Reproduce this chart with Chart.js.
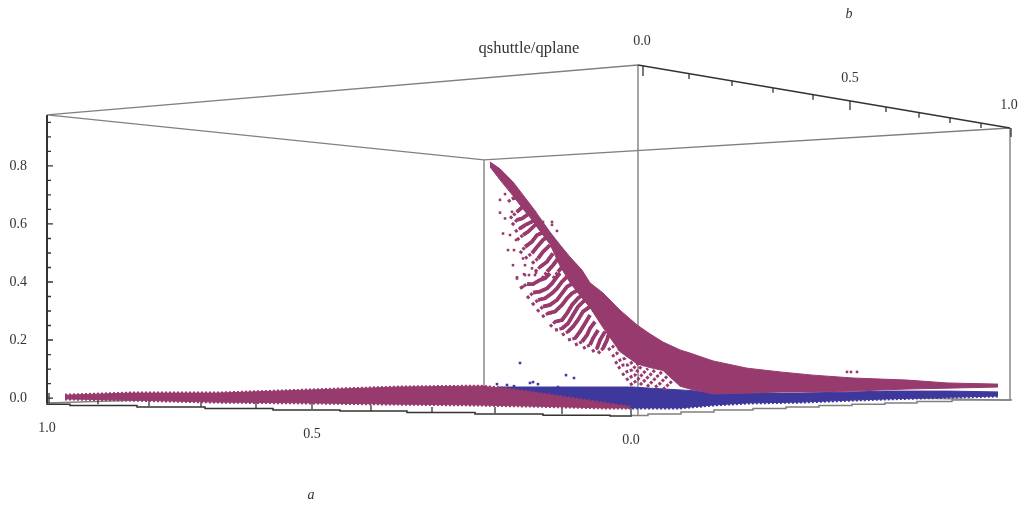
<!DOCTYPE html>
<html>
<head>
<meta charset="utf-8">
<title>qshuttle/qplane</title>
<style>
html, body { margin: 0; padding: 0; background: #fff; }
canvas { display: block; filter: blur(0.4px); }
</style>
<script src="https://cdn.jsdelivr.net/npm/chart.js@4"></script>
</head>
<body>
<canvas id="cloudChart" width="1022" height="508"></canvas>
<script>
// values: x is the projected horizontal position, y is qshuttle/qplane
var bandX = [490,500,513,523,533,540,550,560,570,582,590,603,620,637,650,663,680,690,713,747,780,813,853,907,947,998];
var bandTop = [.814,.790,.745,.700,.655,.621,.572,.528,.486,.441,.397,.362,.303,.252,.221,.193,.166,.155,.128,.103,.090,.079,.069,.062,.052,.048];
var bandBottom = [.797,.752,.697,.652,.610,.575,.530,.455,.398,.345,.312,.243,.160,.118,.105,.095,.041,.031,.014,.017,.021,.021,.024,.031,.034,.038];

var floorX = [65,130,217,313,400,480,503,537,570,603,630];
var floorTop = [.010,.017,.017,.028,.038,.041,.034,.017,0,-.017,-.031];
var floorBottom = [-.003,-.007,-.014,-.017,-.021,-.024,-.026,-.028,-.031,-.034,-.034];

var blueX = [497,633,650,680,713,747,800,853,887,950,998];
var blueTop = [.038,.038,.034,.028,.021,.017,.017,.021,.024,.024,.021];
var blueBottom = [.021,-.034,-.034,-.034,-.024,-.017,-.014,-.007,-.003,.003,.007];

var blueDotsX = [520,566,574,530,533,538,497,507,514,558];
var blueDotsQ = [.121,.079,.069,.052,.055,.048,.048,.045,.041,.038];

// crescents hanging off the dense band
var arcX = [
  [508,513,518],
  [510,517,523,527],
  [512,517,522,527,532],
  [515,520,525,532,537],
  [517,523,528,535,542],
  [520,525,532,537,545],
  [525,532,537,543,550],
  [532,538,543,550],
  [535,540,547,553],
  [542,547,553,558],
  [553,558,565],
  [520,527,533,540,545,550],
  [527,533,540,547,552,557,560],
  [532,538,545,552,557,562,567],
  [537,543,550,557,562,567,573],
  [542,548,555,562,567,572,578],
  [550,555,562,567,572,578,585],
  [555,562,568,573,578,585],
  [562,568,573,578,583,590],
  [568,575,580,585,590],
  [575,582,587,590,595],
  [583,590,593,598],
  [592,597,600,605],
  [598,603,607,609]
];
var arcQ = [
  [.677,.688,.694],
  [.619,.642,.660,.665],
  [.596,.614,.619,.631,.648],
  [.573,.585,.596,.608,.619],
  [.545,.562,.573,.596,.602],
  [.499,.521,.539,.562,.573],
  [.481,.499,.521,.545,.562],
  [.464,.481,.504,.527],
  [.435,.452,.470,.499],
  [.412,.435,.458,.481],
  [.412,.435,.464],
  [.378,.393,.393,.407,.413,.430],
  [.344,.363,.367,.378,.395,.418,.430],
  [.321,.338,.344,.361,.378,.401,.418],
  [.298,.315,.321,.338,.361,.384,.395],
  [.280,.292,.298,.321,.344,.361,.372],
  [.246,.263,.269,.292,.321,.344,.361],
  [.234,.240,.257,.286,.315,.338],
  [.217,.229,.246,.269,.298,.315],
  [.200,.206,.229,.257,.286],
  [.183,.194,.217,.240,.263],
  [.171,.183,.206,.234],
  [.160,.171,.200,.229],
  [.154,.171,.200,.223]
];

// sparser strokes near the corner
var sparseX = [
  [608,613,617],
  [612,617,620,623],
  [615,620,625,628,632],
  [618,623,628,633],
  [622,627,632,635,638],
  [626,631,635,638,643],
  [630,635,639,643,648],
  [640,645,650,655],
  [647,652,657,662],
  [655,660,665,670],
  [663,668,673]
];
var sparseQ = [
  [.166,.177,.194],
  [.143,.154,.171,.183],
  [.119,.131,.137,.154,.166],
  [.102,.114,.114,.125],
  [.079,.091,.097,.108,.119],
  [.062,.073,.079,.097,.114],
  [.045,.056,.068,.085,.102],
  [.045,.062,.079,.097],
  [.039,.056,.074,.091],
  [.037,.050,.068,.085],
  [.030,.045,.062]
];

var strayX = [500,505,500,505,512,503,510,516,508,514,523,513,525,532,517,525,535,517,524,529,536,523,535,552,552,557,543,847,851,857];
var strayQ = [.683,.703,.639,.619,.642,.567,.562,.545,.510,.510,.481,.458,.458,.447,.416,.424,.424,.412,.427,.424,.432,.384,.641,.607,.597,.576,.607,.090,.090,.090];

// box edges, each pair is one straight edge
var grayEdgeX = [[47,638],[47,484],[484,1010],[638,638],[484,484],[1010,1010],[47,484],[484,1010]];
var grayEdgeQ = [[.976,1.148],[.976,.821],[.821,.931],[1.148,-.062],[.821,.03],[.931,-.007],[-.017,.03],[.03,-.007]];

var aAxisX = [47,70,137,205,273,340,407,475,543,610,632];
var aAxisQ = [-.017,-.021,-.026,-.031,-.036,-.041,-.045,-.050,-.055,-.059,-.062];
var aTickX = [49,98,149,201,256,312,371,432,495,562,631];
var aTickFoot = [-.017,-.021,-.028,-.031,-.034,-.038,-.045,-.048,-.052,-.055,-.059];
var aTickHead = [.017,-.003,-.010,-.014,-.017,-.003,-.024,-.031,-.031,-.031,-.024];

var rightFloorX = [632,648,681,714,753,786,819,852,885,917,952,985,1012];
var rightFloorQ = [-.062,-.060,-.055,-.048,-.041,-.036,-.031,-.026,-.021,-.017,-.012,-.007,-.007];

var bAxisX = [638,1010];
var bAxisQ = [1.148,.931];
var bTickX = [643,689,732,773,813,850,886,919,950,981,1011];
var bTickFoot = [1.145,1.117,1.093,1.069,1.045,1.024,1.003,.983,.966,.948,.931];
var bTickHead = [1.110,1.100,1.076,1.052,1.028,.993,.986,.966,.948,.931,.900];

var qLabels = [0,.2,.4,.6,.8];
var qMinor = [.05,.1,.15,.25,.3,.35,.45,.5,.55,.65,.7,.75,.85,.9,.95];

var noteText = ["qshuttle/qplane","0.0","0.5","1.0","1.0","0.5","0.0","b","a"];
var noteX = [529,642,850,1009,47,312,631,849,311];
var noteQ = [1.203,1.231,1.103,1.010,-.103,-.124,-.145,1.321,-.334];
var noteFont = [
  "16.5px 'Liberation Serif'", "14px 'Liberation Serif'", "14px 'Liberation Serif'", "14px 'Liberation Serif'",
  "14px 'Liberation Serif'", "14px 'Liberation Serif'", "14px 'Liberation Serif'",
  "italic 14px 'Liberation Serif'", "italic 14px 'Liberation Serif'"
];

var MAGENTA = "#973a6e";
var BLUE = "#3e389c";
var GRAY = "#808080";
var DARK = "#333333";

function pairs(xs, ys) {
    return xs.map(function (x, i) { return {x: x, y: ys[i]}; });
}

// several short pieces in one dataset, null y breaks the line
function pieces(xLists, qLists) {
    var out = [];
    xLists.forEach(function (xs, i) {
        out = out.concat(pairs(xs, qLists[i]));
        out.push({x: xs[xs.length - 1], y: null});
    });
    return out;
}

function lineSet(data, color, width, extra) {
    return Object.assign({
        data: data,
        borderColor: color,
        backgroundColor: color,
        borderWidth: width,
        pointRadius: 0,
        tension: 0,
        fill: false
    }, extra || {});
}

function dotSet(data, color, radius) {
    return {
        data: data,
        showLine: false,
        pointStyle: "rect",
        pointRadius: radius,
        borderWidth: 0,
        backgroundColor: color
    };
}

function rest(list) {
    return list.slice(1);
}

var aTickXs = aTickX.map(function (x) { return [x, x]; });
var aTickQs = aTickX.map(function (x, i) { return [aTickFoot[i], aTickHead[i]]; });
var bTickXs = bTickX.map(function (x) { return [x, x]; });
var bTickQs = bTickX.map(function (x, i) { return [bTickFoot[i], bTickHead[i]]; });
var qMajorXs = qLabels.map(function () { return [47, 53]; });
var qMajorQs = qLabels.map(function (q) { return [q, q]; });
var qMinorXs = qMinor.map(function () { return [47, 51]; });
var qMinorQs = qMinor.map(function (q) { return [q, q]; });

// the ragged rims of the clouds come from a dashed stroke along the same edges
var ragged = {borderDash: [2, 2]};

// listed back to front
var layers = [
    lineSet(pieces(grayEdgeX, grayEdgeQ), GRAY, 1.4),
    lineSet(pairs(rightFloorX, rightFloorQ), GRAY, 1.5, {stepped: "after"}),
    lineSet(pairs(aAxisX, aAxisQ), DARK, 1.5, {stepped: "after"}),
    lineSet(pairs(bAxisX, bAxisQ), DARK, 1.5),
    lineSet(pieces(aTickXs, aTickQs), DARK, 1.3),
    lineSet(pieces(bTickXs, bTickQs), DARK, 1.3),
    lineSet(pairs([47, 47], [.976, -.017]), DARK, 2),
    lineSet(pieces(qMajorXs, qMajorQs), DARK, 1.3),
    lineSet(pieces(qMinorXs, qMinorQs), DARK, 1.3),
    lineSet(pairs(blueX, blueTop), BLUE, 1, {fill: "+1"}),
    lineSet(pairs(blueX, blueBottom), BLUE, 1),
    lineSet(pairs(blueX, blueBottom), BLUE, 3, ragged),
    dotSet(pairs(blueDotsX, blueDotsQ), BLUE, 1.8),
    lineSet(pairs(floorX, floorTop), MAGENTA, 1, {fill: "+1"}),
    lineSet(pairs(floorX, floorBottom), MAGENTA, 1),
    lineSet(pairs(floorX, floorTop), MAGENTA, 3, ragged),
    lineSet(pairs(floorX, floorBottom), MAGENTA, 3, ragged),
    lineSet(pairs(bandX, bandTop), MAGENTA, 1, {fill: "+1"}),
    lineSet(pairs(bandX, bandBottom), MAGENTA, 1),
    lineSet(pieces(arcX, arcQ), MAGENTA, 3.2, {borderDash: [3, 1.5]}),
    lineSet(pieces(arcX.map(rest), arcQ.map(rest)), MAGENTA, 3.8),
    lineSet(pieces(sparseX, sparseQ), MAGENTA, 3, {borderDash: [3, 1.5]}),
    dotSet(pairs(strayX, strayQ), MAGENTA, 1.8)
];
layers.forEach(function (set, i) { set.order = layers.length - i; });

var boxNotes = {
    id: "boxNotes",
    afterDatasetsDraw: function (chart) {
        var ctx = chart.ctx;
        ctx.save();
        ctx.fillStyle = DARK;
        ctx.textAlign = "center";
        ctx.textBaseline = "middle";
        noteText.forEach(function (text, i) {
            ctx.font = noteFont[i];
            ctx.fillText(text, chart.scales.x.getPixelForValue(noteX[i]), chart.scales.y.getPixelForValue(noteQ[i]));
        });
        ctx.restore();
    }
};

var cloudChart = new Chart("cloudChart", {
    type: "line",
    data: {datasets: layers},
    plugins: [boxNotes],
    options: {
        responsive: false,
        animation: false,
        clip: false,
        parsing: false,
        normalized: false,
        layout: {padding: 0, autoPadding: false},
        plugins: {
            legend: {display: false},
            title: {display: false},
            tooltip: {enabled: false}
        },
        scales: {
            x: {
                type: "linear",
                display: false,
                min: 47,
                max: 1022
            },
            y: {
                type: "linear",
                min: -.379,
                max: 1.372,
                afterFit: function (scale) {
                    scale.width = 47;
                    scale.paddingTop = 0;
                    scale.paddingBottom = 0;
                },
                afterBuildTicks: function (scale) {
                    scale.ticks = qLabels.map(function (q) { return {value: q}; });
                },
                border: {display: false},
                grid: {display: false, drawTicks: false},
                ticks: {
                    padding: 20,
                    color: DARK,
                    autoSkip: false,
                    font: {family: "'Liberation Serif'", size: 14},
                    callback: function (value) { return value.toFixed(1); }
                }
            }
        }
    }
});
</script>
</body>
</html>
